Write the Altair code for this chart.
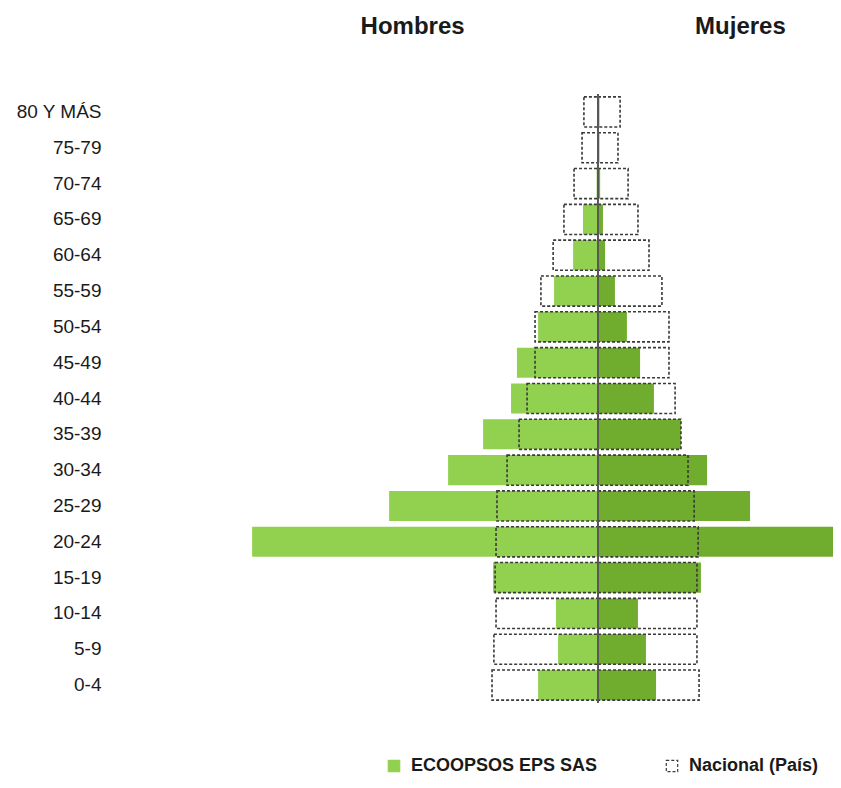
import altair as alt
import pandas as pd

edades = ["80 Y MÁS", "75-79", "70-74", "65-69", "60-64", "55-59", "50-54",
          "45-49", "40-44", "35-39", "30-34", "25-29", "20-24", "15-19",
          "10-14", "5-9", "0-4"]

eco_hombres = [0.02, 0.04, 0.06, 0.64, 1.06, 1.87, 2.55, 3.45, 3.70, 4.89,
               6.38, 8.89, 14.72, 4.47, 1.79, 1.70, 2.55]
eco_mujeres = [0.06, 0.06, 0.09, 0.21, 0.30, 0.72, 1.23, 1.79, 2.38, 3.53,
               4.64, 6.47, 11.80, 4.38, 1.70, 2.04, 2.47]
nac_hombres = [0.60, 0.68, 1.02, 1.45, 1.91, 2.43, 2.68, 2.68, 3.02, 3.36,
               3.87, 4.30, 4.34, 4.38, 4.34, 4.43, 4.51]
nac_mujeres = [0.94, 0.85, 1.28, 1.70, 2.17, 2.72, 3.02, 3.02, 3.28, 3.53,
               3.83, 4.09, 4.26, 4.21, 4.21, 4.21, 4.30]

SERIE_ECO = "ECOOPSOS EPS SAS"
SERIE_NAC = "Nacional (País)"
series = [SERIE_ECO, SERIE_NAC]

rows = []
for i, e in enumerate(edades):
    rows.append(dict(edad=e, sexo="Hombres", serie=SERIE_ECO, valor=-eco_hombres[i]))
    rows.append(dict(edad=e, sexo="Mujeres", serie=SERIE_ECO, valor=eco_mujeres[i]))
    rows.append(dict(edad=e, sexo="Hombres", serie=SERIE_NAC, valor=-nac_hombres[i]))
    rows.append(dict(edad=e, sexo="Mujeres", serie=SERIE_NAC, valor=nac_mujeres[i]))
df = pd.DataFrame(rows)

FONT = "Liberation Sans"

x_enc = alt.X(
    "valor:Q",
    stack=None,
    scale=alt.Scale(domain=[-20.64, 10.0], nice=False, zero=False),
    axis=alt.Axis(
        orient="top", values=[-7.91, 6.04],
        labelExpr="datum.value < 0 ? 'Hombres' : 'Mujeres'",
        ticks=False, tickSize=0, domain=False, grid=False,
        labelFontSize=24, labelFontWeight="bold", labelFont=FONT,
        labelColor="#1a1a1a", labelPadding=56, title=None,
    ),
)
y_enc = alt.Y(
    "edad:N", sort=edades,
    scale=alt.Scale(paddingInner=0.16, paddingOuter=0.08),
    axis=alt.Axis(
        title=None, ticks=False, domain=False, grid=False,
        labelFontSize=19, labelFont=FONT, labelColor="#1a1a1a",
        labelPadding=12,
    ),
)

fill_scale = alt.Scale(domain=series, range=["#92D050", "transparent"])
stroke_scale = alt.Scale(domain=series, range=["#92D050", "#3a3a3a"])
dash_scale = alt.Scale(domain=series, range=[[1, 0], [3, 2]])

legend = alt.Legend(
    title=None, orient="none", legendX=272, legendY=663,
    direction="horizontal", columnPadding=65, labelOffset=8,
    symbolType="square", symbolSize=130, symbolStrokeWidth=1.2,
    labelFontSize=18, labelFontWeight="bold", labelFont=FONT,
    labelColor="#1a1a1a", labelLimit=400, padding=0,
)

eco_h = alt.Chart(df).transform_filter(
    (alt.datum.serie == SERIE_ECO) & (alt.datum.sexo == "Hombres")
).mark_bar(clip=True).encode(
    x=x_enc, x2=alt.datum(0), y=y_enc,
    fill=alt.Fill("serie:N", scale=fill_scale, legend=legend),
)

eco_m = alt.Chart(df).transform_filter(
    (alt.datum.serie == SERIE_ECO) & (alt.datum.sexo == "Mujeres")
).mark_bar(clip=True, fill="#70AD2F").encode(
    x=x_enc, x2=alt.datum(0), y=y_enc,
)

nac = alt.Chart(df).transform_filter(
    alt.datum.serie == SERIE_NAC
).mark_bar(clip=True, strokeWidth=1.6).encode(
    x=x_enc, x2=alt.datum(0), y=y_enc,
    fill=alt.Fill("serie:N", scale=fill_scale, legend=legend),
    stroke=alt.Stroke("serie:N", scale=stroke_scale, legend=legend),
    strokeDash=alt.StrokeDash("serie:N", scale=dash_scale, legend=legend),
)

centro = alt.Chart(df).mark_rule(color="#595959", strokeWidth=1.5).encode(
    x=alt.datum(0),
)

chart = alt.layer(eco_h, eco_m, nac, centro).properties(
    width=720, height=609,
    autosize=alt.AutoSizeParams(type="none"),
    padding={"left": 105, "top": 86, "right": 0, "bottom": 77},
).configure(font=FONT).configure_view(stroke=None)

chart.save("out.html", embed_options={"renderer": "svg", "actions": False})
